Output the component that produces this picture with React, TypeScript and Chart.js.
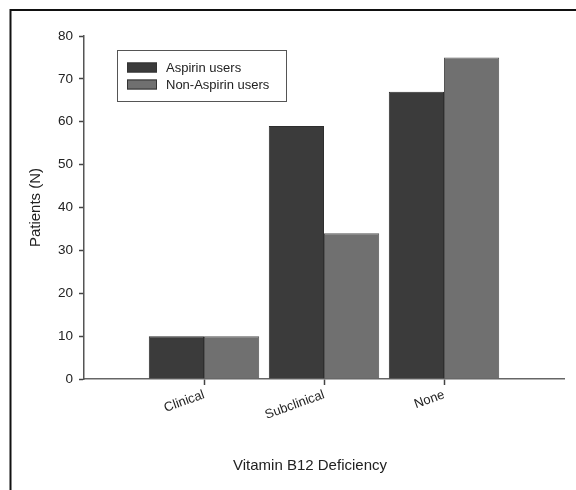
import React, { useEffect, useRef } from "react";
import { Chart, registerables } from "chart.js";

Chart.register(...registerables);

const categories = ["Clinical", "Subclinical", "None"];
const aspirinUsers = [10, 59, 67];
const nonAspirinUsers = [10, 34, 75];
const seriesNames = ["Aspirin users", "Non-Aspirin users"];
const seriesColors = ["#3b3b3b", "#707070"];
const yTicks = [0, 10, 20, 30, 40, 50, 60, 70, 80];
const xTitle = "Vitamin B12 Deficiency";
const yTitle = "Patients (N)";

const FONT = "'Liberation Sans', Arial, Helvetica, sans-serif";

const decorPlugin = {
  id: "decor",
  afterDraw(chart: any) {
    const ctx = chart.ctx;
    const area = chart.chartArea;
    ctx.save();
    // frame
    ctx.strokeStyle = "#111";
    ctx.lineWidth = 2;
    ctx.beginPath();
    ctx.moveTo(10.5, 490);
    ctx.lineTo(10.5, 10);
    ctx.lineTo(576, 10);
    ctx.stroke();

    // legend
    ctx.lineWidth = 1;
    ctx.strokeStyle = "#555";
    ctx.strokeRect(117.5, 50.5, 169, 51);
    const ds = chart.data.datasets;
    const rows = [67.5, 84.5];
    ds.forEach((d: any, i: number) => {
      ctx.fillStyle = d.backgroundColor;
      ctx.fillRect(127, rows[i] - 5, 30, 10);
      ctx.strokeStyle = "#333";
      ctx.strokeRect(127.5, rows[i] - 4.5, 29, 9);
      ctx.fillStyle = "#222";
      ctx.font = `13px ${FONT}`;
      ctx.textBaseline = "middle";
      ctx.textAlign = "left";
      ctx.fillText(d.label, 166, rows[i] + 0.5);
    });

    // axis titles
    ctx.fillStyle = "#222";
    ctx.font = `15px ${FONT}`;
    ctx.textAlign = "center";
    ctx.textBaseline = "middle";
    ctx.fillText(xTitle, 310, 466);
    ctx.save();
    ctx.translate(36, (area.top + area.bottom) / 2);
    ctx.rotate(-Math.PI / 2);
    ctx.fillText(yTitle, 0, 0);
    ctx.restore();
    ctx.restore();
  },
};

export default function App() {
  const ref = useRef<HTMLCanvasElement | null>(null);
  useEffect(() => {
    if (!ref.current) return;
    const labels = ["", ...categories, ""];
    const pad = (a: number[]) => [null, ...a, null];
    const chart = new Chart(ref.current, {
      type: "bar",
      data: {
        labels,
        datasets: [
          {
            label: seriesNames[0],
            data: pad(aspirinUsers) as any,
            backgroundColor: seriesColors[0],
            borderColor: "#2e2e2e",
            borderWidth: 1,
          },
          {
            label: seriesNames[1],
            data: pad(nonAspirinUsers) as any,
            backgroundColor: seriesColors[1],
            borderColor: "#555",
            borderWidth: 1,
          },
        ],
      },
      options: {
        animation: false,
        responsive: true,
        maintainAspectRatio: false,
        devicePixelRatio: 1,
        layout: { padding: { left: 0, right: 12, top: 36, bottom: 0 } },
        plugins: {
          legend: { display: false },
          tooltip: { enabled: false },
          title: { display: false },
        },
        datasets: {
          bar: { categoryPercentage: 0.92, barPercentage: 1.0 },
        },
        scales: {
          x: {
            type: "category",
            offset: false,
            afterFit: (s: any) => {
              s.height = 111;
            },
            grid: {
              display: true,
              offset: false,
              drawOnChartArea: false,
              drawTicks: true,
              tickLength: 6,
              tickWidth: 1.5,
              tickColor: (c: any) =>
                c.index === 0 || c.index === categories.length + 1
                  ? "rgba(0,0,0,0)"
                  : "#444",
            },
            border: { display: true, color: "#666", width: 1.5 },
            ticks: {
              minRotation: 20,
              maxRotation: 20,
              autoSkip: false,
              padding: 2,
              color: "#222",
              font: { family: FONT, size: 13 },
            },
          },
          y: {
            min: 0,
            max: 80,
            afterFit: (s: any) => {
              s.width = 84;
            },
            afterBuildTicks: (s: any) => {
              s.ticks = yTicks.map((v) => ({ value: v }));
            },
            grid: {
              display: true,
              drawOnChartArea: false,
              drawTicks: true,
              tickLength: 5,
              tickWidth: 1.5,
              tickColor: "#444",
            },
            border: { display: true, color: "#555", width: 1.5 },
            ticks: {
              padding: 6,
              color: "#222",
              font: { family: FONT, size: 13.5 },
            },
          },
        },
      },
      plugins: [decorPlugin],
    });
    return () => chart.destroy();
  }, []);
  return (
    <div
      style={{
        position: "fixed",
        left: 0,
        top: 0,
        width: 576,
        height: 490,
        background: "#fff",
      }}
    >
      <canvas ref={ref} />
    </div>
  );
}
